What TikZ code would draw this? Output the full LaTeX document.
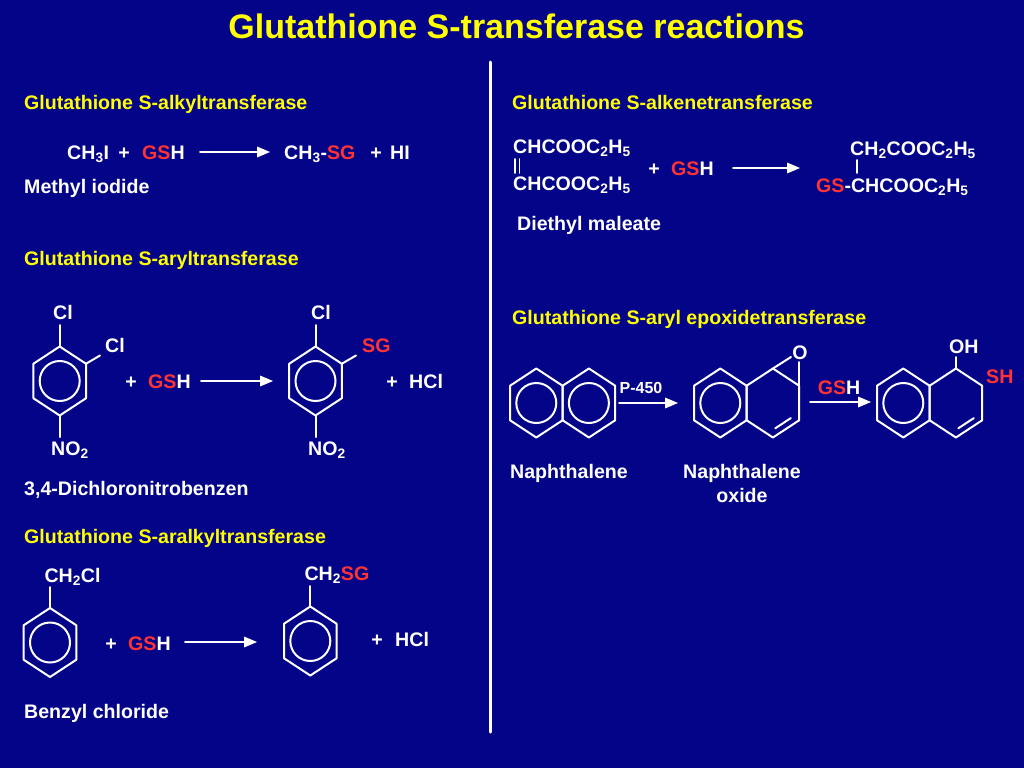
\documentclass[tikz,border=0pt]{standalone}
\usepackage{fontspec}
\setmainfont{Liberation Sans}
\usepackage{tikz}
\usetikzlibrary{arrows}
\definecolor{SlideBlue}{RGB}{4,4,136}
\definecolor{GSred}{RGB}{255,51,51}
\definecolor{HeadYellow}{RGB}{255,255,0}
\newcommand{\MainColor}{white}
\newcommand{\GS}[1]{\textcolor{GSred}{#1}}
\newcommand{\sbs}[1]{\textsubscript{#1}}
% six-ring, centre (#1,#2), y runs downwards
\newcommand{\hexring}[2]{%
  \draw[bond] (#1,#2-34.5) -- (#1+26.3,#2-17.25) -- (#1+26.3,#2+17.25)
    -- (#1,#2+34.5) -- (#1-26.3,#2+17.25) -- (#1-26.3,#2-17.25) -- cycle;}
\newcommand{\arring}[2]{%
  \hexring{#1}{#2}\draw[bond] (#1,#2) circle[radius=20pt];}
\tikzset{
  txt/.style={text=\MainColor,font=\bfseries\fontsize{19.6}{24}\selectfont,
    inner sep=0pt,anchor=base west},
  hdr/.style={txt,text=HeadYellow},
  bond/.style={draw=\MainColor,line width=2pt},
  rxn/.style={->,draw=\MainColor,line width=2pt}
}

\begin{document}
\begin{tikzpicture}[line cap=round,line join=round,>=triangle 45,
  x=1pt,y=-1pt]
  \useasboundingbox (0,0) rectangle (1024,768);
  \fill[SlideBlue] (0,0) rectangle (1024,768);
  \node[txt,text=HeadYellow,font=\bfseries\fontsize{34}{40}\selectfont,anchor=base]
    (ttl) at (516.5,38) {Glutathione S-transferase reactions};
  \draw[\MainColor,line width=3pt] (490,62) -- (490,732);

  % alkyl
  \node[hdr] (hdalk) at (24,109) {Glutathione S-alkyltransferase};
  \node[txt] (ch3i) at (67,159) {CH\sbs{3}I};
  \node[txt,anchor=base] (plA) at (124,159) {+};
  \node[txt] (gshA) at (142,159) {\GS{GS}H};
  \coordinate (aAs) at (200,152);
  \coordinate (aAe) at (270,152);
  \draw[rxn] (aAs) -- (aAe);
  \node[txt] (ch3sg) at (284,159) {CH\sbs{3}-\GS{SG}};
  \node[txt,anchor=base] (plB) at (376,159) {+};
  \node[txt] (hi) at (390,159) {HI};
  \node[txt] (meio) at (24,193) {Methyl iodide};

  % aryl
  \node[hdr] (hdaryl) at (24,265) {Glutathione S-aryltransferase};
  \arring{59.7}{381}
  \draw[bond] (59.7,346.5) -- (59.7,325);
  \draw[bond] (86,363.75) -- (100,355.5);
  \draw[bond] (59.7,415.5) -- (59.7,437);
  \node[txt] (clA) at (53,319) {Cl};
  \node[txt] (clB) at (105,352) {Cl};
  \node[txt] (noA) at (51,455) {NO\sbs{2}};
  \node[txt,anchor=base] (plC) at (131,388) {+};
  \node[txt] (gshC) at (148,388) {\GS{GS}H};
  \coordinate (aCs) at (201,381);
  \coordinate (aCe) at (273,381);
  \draw[rxn] (aCs) -- (aCe);
  \arring{315.5}{381}
  \draw[bond] (315.5,346.5) -- (315.5,325);
  \draw[bond] (341.8,363.75) -- (356,355.5);
  \draw[bond] (315.5,415.5) -- (315.5,437);
  \node[txt] (clC) at (311,319) {Cl};
  \node[txt] (sgC) at (362,352) {\GS{SG}};
  \node[txt] (noC) at (308,455) {NO\sbs{2}};
  \node[txt,anchor=base] (plD) at (392,388) {+};
  \node[txt] (hclD) at (409,388) {HCl};
  \node[txt] (dcnb) at (24,495) {3,4-Dichloronitrobenzen};

  % aralkyl
  \node[hdr] (hdaral) at (24,543) {Glutathione S-aralkyltransferase};
  \arring{50}{642.5}
  \draw[bond] (50,608) -- (50,587);
  \node[txt] (ch2cl) at (44.3,582) {CH\sbs{2}Cl};
  \node[txt,anchor=base] (plE) at (111,650) {+};
  \node[txt] (gshE) at (128,650) {\GS{GS}H};
  \coordinate (aEs) at (185,642);
  \coordinate (aEe) at (257,642);
  \draw[rxn] (aEs) -- (aEe);
  \arring{310.3}{641}
  \draw[bond] (310.3,606.5) -- (310.3,586);
  \node[txt] (ch2sg) at (304.3,580) {CH\sbs{2}\GS{SG}};
  \node[txt,anchor=base] (plF) at (377,646) {+};
  \node[txt] (hclF) at (395,646) {HCl};
  \node[txt] (bzcl) at (24,718) {Benzyl chloride};

  % alkene
  \node[hdr] (hdalke) at (512,109) {Glutathione S-alkenetransferase};
  \node[txt] (dmA) at (513,153) {CHCOOC\sbs{2}H\sbs{5}};
  \draw[\MainColor,line width=1.6pt] (515,159) -- (515,173);
  \draw[\MainColor,line width=1.6pt] (519.5,159) -- (519.5,173);
  \node[txt] (dmB) at (513,190) {CHCOOC\sbs{2}H\sbs{5}};
  \node[txt,anchor=base] (plG) at (654,175) {+};
  \node[txt] (gshG) at (671,175) {\GS{GS}H};
  \coordinate (aGs) at (733,168);
  \coordinate (aGe) at (800,168);
  \draw[rxn] (aGs) -- (aGe);
  \node[txt] (prA) at (850,155) {CH\sbs{2}COOC\sbs{2}H\sbs{5}};
  \draw[\MainColor,line width=1.6pt] (857,160) -- (857,173);
  \node[txt] (prB) at (816,192) {\GS{GS}-CHCOOC\sbs{2}H\sbs{5}};
  \node[txt] (dmlab) at (517,230) {Diethyl maleate};

  % aryl epoxide
  \node[hdr] (hdepox) at (512,324) {Glutathione S-aryl epoxidetransferase};
  \arring{536.3}{403}
  \arring{588.9}{403}
  \coordinate (aPs) at (619,403);
  \coordinate (aPe) at (678,403);
  \draw[rxn] (aPs) -- (aPe);
  \node[txt,anchor=base,font=\bfseries\fontsize{16}{19}\selectfont] (p450) at (641,393) {P-450};
  \arring{720.3}{403}
  \hexring{772.9}{403}
  \node[txt,anchor=base] (epo) at (800,359) {O};
  \draw[bond] (799.2,385.75) -- (799.2,362);
  \draw[bond] (772.9,368.5) -- (791,357);
  \draw[bond] (790.8,418.1) -- (775.3,428.3);
  \coordinate (aHs) at (810,402);
  \coordinate (aHe) at (871,402);
  \draw[rxn] (aHs) -- (aHe);
  \node[txt,anchor=base] (gshH) at (839,394) {\GS{GS}H};
  \arring{903.3}{403}
  \hexring{955.9}{403}
  \draw[bond] (955.9,368.5) -- (955.9,357);
  \draw[bond] (973.8,418.1) -- (958.3,428.3);
  \node[txt] (oh) at (949,353) {OH};
  \node[txt] (sh) at (986,383) {\GS{SH}};
  \node[txt,anchor=base] (naphlab) at (569,478) {Naphthalene};
  \node[txt,anchor=base] (oxlabA) at (742,478) {Naphthalene};
  \node[txt,anchor=base] (oxlabB) at (742,502) {oxide};
\end{tikzpicture}
\end{document}
